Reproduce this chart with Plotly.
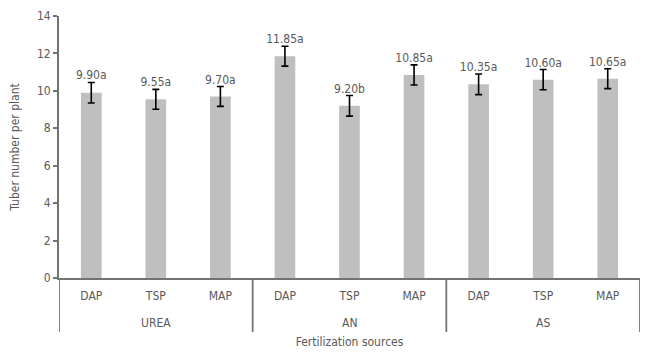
import plotly.graph_objects as go

groups = ["UREA", "UREA", "UREA", "AN", "AN", "AN", "AS", "AS", "AS"]
sources = ["DAP", "TSP", "MAP", "DAP", "TSP", "MAP", "DAP", "TSP", "MAP"]
values = [9.90, 9.55, 9.70, 11.85, 9.20, 10.85, 10.35, 10.60, 10.65]
errors = [0.55, 0.53, 0.53, 0.53, 0.55, 0.54, 0.55, 0.54, 0.53]
letters = ["a", "a", "a", "a", "b", "a", "a", "a", "a"]
y_ticks = [0, 2, 4, 6, 8, 10, 12, 14]

labels = [f"{v:.2f}{l}" for v, l in zip(values, letters)]
tops = [v + e for v, e in zip(values, errors)]
xpos = list(range(len(values)))

FONT = "DejaVu Sans Condensed, Liberation Sans Narrow, Arial Narrow, sans-serif"
GRAY = "#595959"
AXIS = "#737373"
LW = 1.8
FS = 12

fig = go.Figure()
fig.add_trace(go.Bar(
    x=xpos, y=values,
    marker=dict(color="#BFBFBF", line=dict(width=0)),
    width=0.32,
    error_y=dict(type="data", array=errors, visible=True, color="#000000",
                 thickness=1.6, width=3.5),
    showlegend=False,
))
fig.add_trace(go.Scatter(
    x=xpos, y=tops, mode="text", text=labels,
    textposition="top center",
    textfont=dict(family=FONT, size=FS, color=GRAY),
    showlegend=False, cliponaxis=False,
))

# group boundaries and labels, derived from the group list
bounds = [-0.5]
group_names = []
group_centers = []
start = 0
for i in range(1, len(groups) + 1):
    if i == len(groups) or groups[i] != groups[start]:
        group_names.append(groups[start])
        group_centers.append((start + i - 1) / 2)
        bounds.append(i - 0.5)
        start = i

plot_h = 262.0
div_bottom = -54 / plot_h
for b in bounds:
    fig.add_shape(type="line", xref="x", yref="paper", x0=b, x1=b,
                  y0=0, y1=div_bottom, line=dict(color=AXIS, width=LW))
for name, c in zip(group_names, group_centers):
    fig.add_annotation(x=c, xref="x", y=-45 / plot_h, yref="paper",
                       text=name, showarrow=False, yanchor="middle",
                       font=dict(family=FONT, size=FS, color=GRAY))

# body has an 8px margin in the page; compensate so the plot area lands correctly
fig.update_layout(
    width=648, height=360,
    margin=dict(l=51, r=16, t=8, b=90, autoexpand=False),
    paper_bgcolor="white", plot_bgcolor="white",
    font=dict(family=FONT, size=FS, color=GRAY),
)
fig.update_xaxes(
    range=[-0.5, len(values) - 0.5], automargin=False,
    tickvals=xpos, ticktext=sources,
    showline=True, linecolor=AXIS, linewidth=LW,
    showgrid=False, zeroline=False, ticks="", ticklabelstandoff=6,
    tickfont=dict(family=FONT, size=FS, color=GRAY),
    title=dict(text="Fertilization sources", font=dict(family=FONT, size=FS, color=GRAY), standoff=35),
)
fig.update_yaxes(
    range=[0, 14], tickvals=y_ticks, ticktext=[str(t) for t in y_ticks],
    automargin=False,
    showline=True, linecolor=AXIS, linewidth=LW,
    ticks="outside", ticklen=4, tickcolor=AXIS, tickwidth=LW,
    showgrid=False, zeroline=False,
    tickfont=dict(family=FONT, size=FS, color=GRAY),
    title=dict(text="Tuber number per plant", font=dict(family=FONT, size=FS, color=GRAY), standoff=20),
)

fig.write_html("out.html")
